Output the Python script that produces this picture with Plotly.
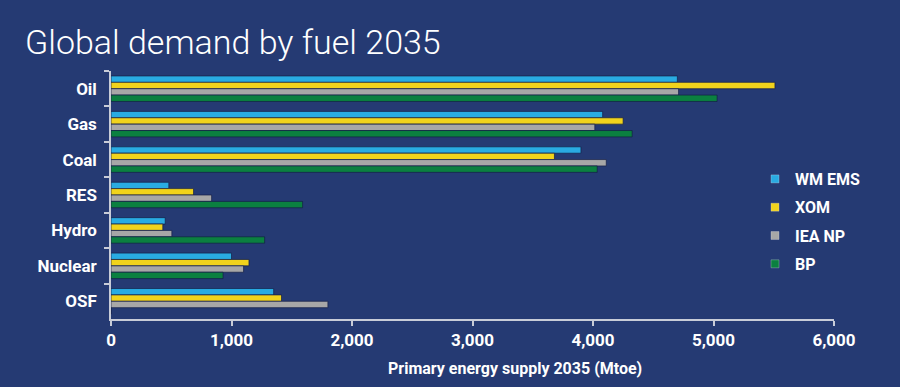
import plotly.graph_objects as go

categories = ["Oil", "Gas", "Coal", "RES", "Hydro", "Nuclear", "OSF"]
series_names = ["WM EMS", "XOM", "IEA NP", "BP"]
wm_ems = [4700, 4080, 3900, 480, 450, 1000, 1350]
xom = [5510, 4250, 3680, 685, 430, 1145, 1415]
iea_np = [4710, 4015, 4110, 835, 505, 1100, 1800]
bp = [5030, 4325, 4035, 1590, 1275, 930, 0]
x_ticks = [0, 1000, 2000, 3000, 4000, 5000, 6000]
x_tick_labels = ["0", "1,000", "2,000", "3,000", "4,000", "5,000", "6,000"]

colors = ["#29ABE2", "#F1D31C", "#A7A7A7", "#0B8040"]
bg = "#253A73"
font_family = "Roboto"

fig = go.Figure()
for name, vals, col in zip(series_names, [wm_ems, xom, iea_np, bp], colors):
    fig.add_trace(go.Bar(
        y=categories, x=vals, name=name, orientation="h",
        marker=dict(color=col, line=dict(color="rgba(20,30,70,0.7)", width=1)),
        showlegend=False,
    ))
    fig.add_trace(go.Scatter(
        x=[None], y=[None], mode="markers", name=name, legendgroup=name,
        marker=dict(symbol="square", size=8, color=col,
                    line=dict(color="rgba(220,220,230,0.6)", width=0.5)),
    ))

fig.update_layout(
    width=900, height=387,
    paper_bgcolor=bg, plot_bgcolor=bg,
    margin=dict(l=111, r=66, t=71, b=68),
    barmode="group", bargap=0.28, bargroupgap=0.0,
    font=dict(family=font_family, color="white"),
    title=dict(text="Global demand by fuel 2035", x=25/900, xanchor="left",
               xref="container", y=1-42/387, yanchor="middle", yref="container",
               font=dict(family=font_family, size=34, weight=300, color="white")),
    legend=dict(x=(755-111)/723, xanchor="left", y=(319-162)/248, yanchor="top",
                bgcolor="rgba(0,0,0,0)", tracegroupgap=4.5, itemwidth=30,
                font=dict(family=font_family, size=16, weight=700, color="white")),
    showlegend=True,
)
fig.update_xaxes(
    range=[0, 6000], tickvals=x_ticks, ticktext=x_tick_labels,
    showgrid=False, zeroline=False, showline=True, linecolor="#C8CCD8", linewidth=1.5,
    ticks="outside", ticklen=5, tickcolor="#C8CCD8", tickwidth=1.5,
    tickfont=dict(family=font_family, size=17, weight=700, color="white"),
)
fig.update_yaxes(
    autorange="reversed", showgrid=False, zeroline=False,
    showline=True, linecolor="#C8CCD8", linewidth=1.5,
    ticks="outside", ticklen=5, tickcolor="#C8CCD8", tickwidth=1.5, tickson="boundaries",
    ticklabelstandoff=9,
    tickfont=dict(family=font_family, size=17, weight=700, color="white"),
)
fig.add_annotation(
    text="Primary energy supply 2035 (Mtoe)", xref="paper", yref="paper",
    x=(515-111)/723, y=-(368-319)/248, xanchor="center", yanchor="middle",
    showarrow=False, font=dict(family=font_family, size=16, weight=700, color="white"),
)

fig.write_html("out.html", config={"displayModeBar": False},
               post_script="document.body.style.margin='0';document.body.style.background='%s';" % bg)
